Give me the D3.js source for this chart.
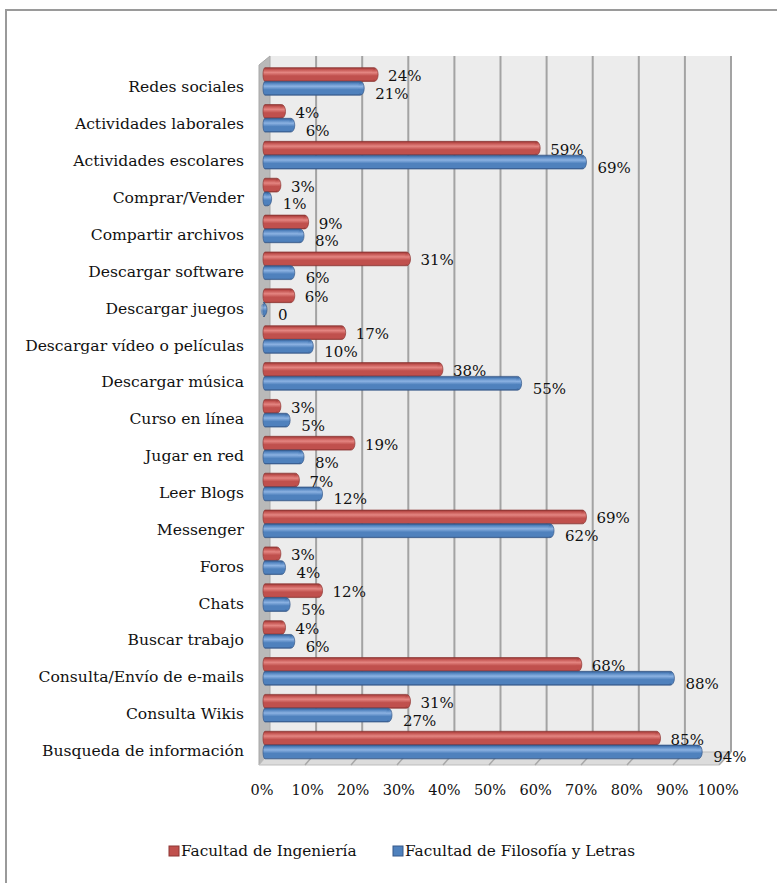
<!DOCTYPE html>
<html>
<head>
<meta charset="utf-8">
<script src="https://cdn.jsdelivr.net/npm/d3@7"></script>
<style>
  html, body { margin: 0; padding: 0; background: #fff; }
  svg { display: block; }
  text { font-family: "DejaVu Serif", "Liberation Serif", serif; fill: #111; }
</style>
</head>
<body>
<script>
// Internet uses by faculty (percent of students)
const categories = [
  "Redes sociales", "Actividades laborales", "Actividades escolares", "Comprar/Vender",
  "Compartir archivos", "Descargar software", "Descargar juegos", "Descargar vídeo o películas",
  "Descargar música", "Curso en línea", "Jugar en red", "Leer Blogs", "Messenger", "Foros",
  "Chats", "Buscar trabajo", "Consulta/Envío de e-mails", "Consulta Wikis", "Busqueda de información"
];
const ingenieria = [24, 4, 59, 3, 9, 31, 6, 17, 38, 3, 19, 7, 69, 3, 12, 4, 68, 31, 85];
const filosofia  = [21, 6, 69, 1, 8, 6, 0, 10, 55, 5, 8, 12, 62, 4, 5, 6, 88, 27, 94];
const filosofiaLabels = ["21%", "6%", "69%", "1%", "8%", "6%", "0", "10%", "55%", "5%", "8%", "12%", "62%", "4%", "5%", "6%", "88%", "27%", "94%"];
const tickValues = [0, 10, 20, 30, 40, 50, 60, 70, 80, 90, 100];
const seriesNames = ["Facultad de Ingeniería", "Facultad de Filosofía y Letras"];

const W = 777, H = 883;
const svg = d3.select("body").append("svg").attr("width", W).attr("height", H);

// outer chart frame (open on the right and bottom)
svg.append("path")
  .attr("d", `M6,${H} V10 H${W}`)
  .attr("fill", "none").attr("stroke", "#9a9a9a").attr("stroke-width", 2);

// 3D box geometry: back wall, floor front edge, and bar plane
const wallTop = 56, floorBack = 752, floorFront = 765;
const xBack = d3.scaleLinear().domain([0, 100]).range([270, 731]);
const xFront = d3.scaleLinear().domain([0, 100]).range([259, 719]);
const xBar = d3.scaleLinear().domain([0, 100]).range([263, 726]);
const y = d3.scaleBand().domain(categories).range([63, 763.5]);

const defs = svg.append("defs");
function cylGrad(id, dark, mid, light) {
  const g = defs.append("linearGradient").attr("id", id)
    .attr("x1", 0).attr("y1", 0).attr("x2", 0).attr("y2", 1);
  [[0, dark], [0.12, mid], [0.35, light], [0.6, mid], [0.9, mid], [1, dark]]
    .forEach(([o, c]) => g.append("stop").attr("offset", o).attr("stop-color", c));
}
cylGrad("gRed", "#8e3634", "#c0504d", "#e48581");
cylGrad("gBlue", "#36598a", "#4f81bd", "#8cb2e2");

// back wall
svg.append("rect")
  .attr("x", xBack(0)).attr("y", wallTop)
  .attr("width", xBack(100) - xBack(0)).attr("height", floorBack - wallTop)
  .attr("fill", "#ececec");

// left side wall
svg.append("path")
  .attr("d", `M${xBack(0)},${wallTop} L${xFront(0)},${wallTop + 9} L${xFront(0)},${floorFront} L${xBack(0)},${floorBack} Z`)
  .attr("fill", "#b9b9b9").attr("stroke", "#a8a8a8").attr("stroke-width", 1);

// floor
svg.append("path")
  .attr("d", `M${xBack(0)},${floorBack} L${xBack(100)},${floorBack} L${xFront(100)},${floorFront} L${xFront(0)},${floorFront} Z`)
  .attr("fill", "#dcdcdc").attr("stroke", "#bdbdbd").attr("stroke-width", 1);

// gridlines on back wall and floor
const grid = svg.append("g");
grid.selectAll("line.wall").data(tickValues.slice(1)).join("line")
  .attr("class", "wall")
  .attr("x1", d => xBack(d)).attr("x2", d => xBack(d))
  .attr("y1", wallTop).attr("y2", floorBack)
  .attr("stroke", "#a3a3a3").attr("stroke-width", 2);
grid.selectAll("line.floor").data(tickValues.slice(1)).join("line")
  .attr("class", "floor")
  .attr("x1", d => xBack(d)).attr("x2", d => xFront(d))
  .attr("y1", floorBack).attr("y2", floorFront)
  .attr("stroke", "#a8a8a8").attr("stroke-width", 1.5);

// bars
const barH = 13.8, capR = 4;
function drawBars(vals, grad, stroke, offset) {
  const g = svg.append("g");
  const row = g.selectAll("g").data(vals).join("g");
  row.append("path")
    .attr("d", (d, i) => {
      const y0 = y(categories[i]) + y.bandwidth() / 2 + offset;
      const x0 = xBar(0), x1 = xBar(d);
      return `M${x0 + 2},${y0} H${x1} A${capR},${barH / 2} 0 0 1 ${x1},${y0 + barH} H${x0 + 2} A2,${barH / 2} 0 0 1 ${x0 + 2},${y0} Z`;
    })
    .attr("fill", `url(#${grad})`).attr("stroke", stroke).attr("stroke-width", 0.7);
  row.append("ellipse")
    .attr("cx", (d) => xBar(d))
    .attr("cy", (d, i) => y(categories[i]) + y.bandwidth() / 2 + offset + barH / 2)
    .attr("rx", capR * 0.55).attr("ry", barH / 2 - 1)
    .attr("fill", `url(#${grad})`).attr("opacity", 0.6);
}
drawBars(ingenieria, "gRed", "#8e3634", -barH);
drawBars(filosofia, "gBlue", "#36598a", 0);

// value labels
const fsVal = 15, fsCat = 15.6, fsLeg = 15.3;
svg.append("g").selectAll("text").data(ingenieria).join("text")
  .attr("x", d => xBar(d) + 14)
  .attr("y", (d, i) => y(categories[i]) + y.bandwidth() / 2 - barH / 2 + 1.5)
  .attr("dominant-baseline", "central").attr("font-size", fsVal)
  .text(d => d + "%");
svg.append("g").selectAll("text").data(filosofia).join("text")
  .attr("x", d => xBar(d) + 15)
  .attr("y", (d, i) => y(categories[i]) + y.bandwidth() / 2 + barH / 2 + 5.5)
  .attr("dominant-baseline", "central").attr("font-size", fsVal)
  .text((d, i) => filosofiaLabels[i]);

// category labels
svg.append("g").selectAll("text").data(categories).join("text")
  .attr("x", 244)
  .attr("y", d => y(d) + y.bandwidth() / 2 + 6)
  .attr("text-anchor", "end").attr("dominant-baseline", "central").attr("font-size", fsCat)
  .text(d => d);

// value axis labels
svg.append("g").selectAll("text").data(tickValues).join("text")
  .attr("x", d => xFront(d) + 3 - d * 0.04)
  .attr("y", 790)
  .attr("text-anchor", "middle").attr("dominant-baseline", "central").attr("font-size", 14.5)
  .text(d => d + "%");

// legend
const legend = svg.append("g");
const legendX = [169, 393];
const legendColors = [["#c0504d", "#8e3634"], ["#4f81bd", "#36598a"]];
seriesNames.forEach((name, i) => {
  legend.append("rect")
    .attr("x", legendX[i]).attr("y", 846).attr("width", 10).attr("height", 10)
    .attr("fill", legendColors[i][0]).attr("stroke", legendColors[i][1]).attr("stroke-width", 1);
  legend.append("text")
    .attr("x", legendX[i] + 12).attr("y", 851)
    .attr("dominant-baseline", "central").attr("font-size", fsLeg)
    .text(name);
});
</script>
</body>
</html>
